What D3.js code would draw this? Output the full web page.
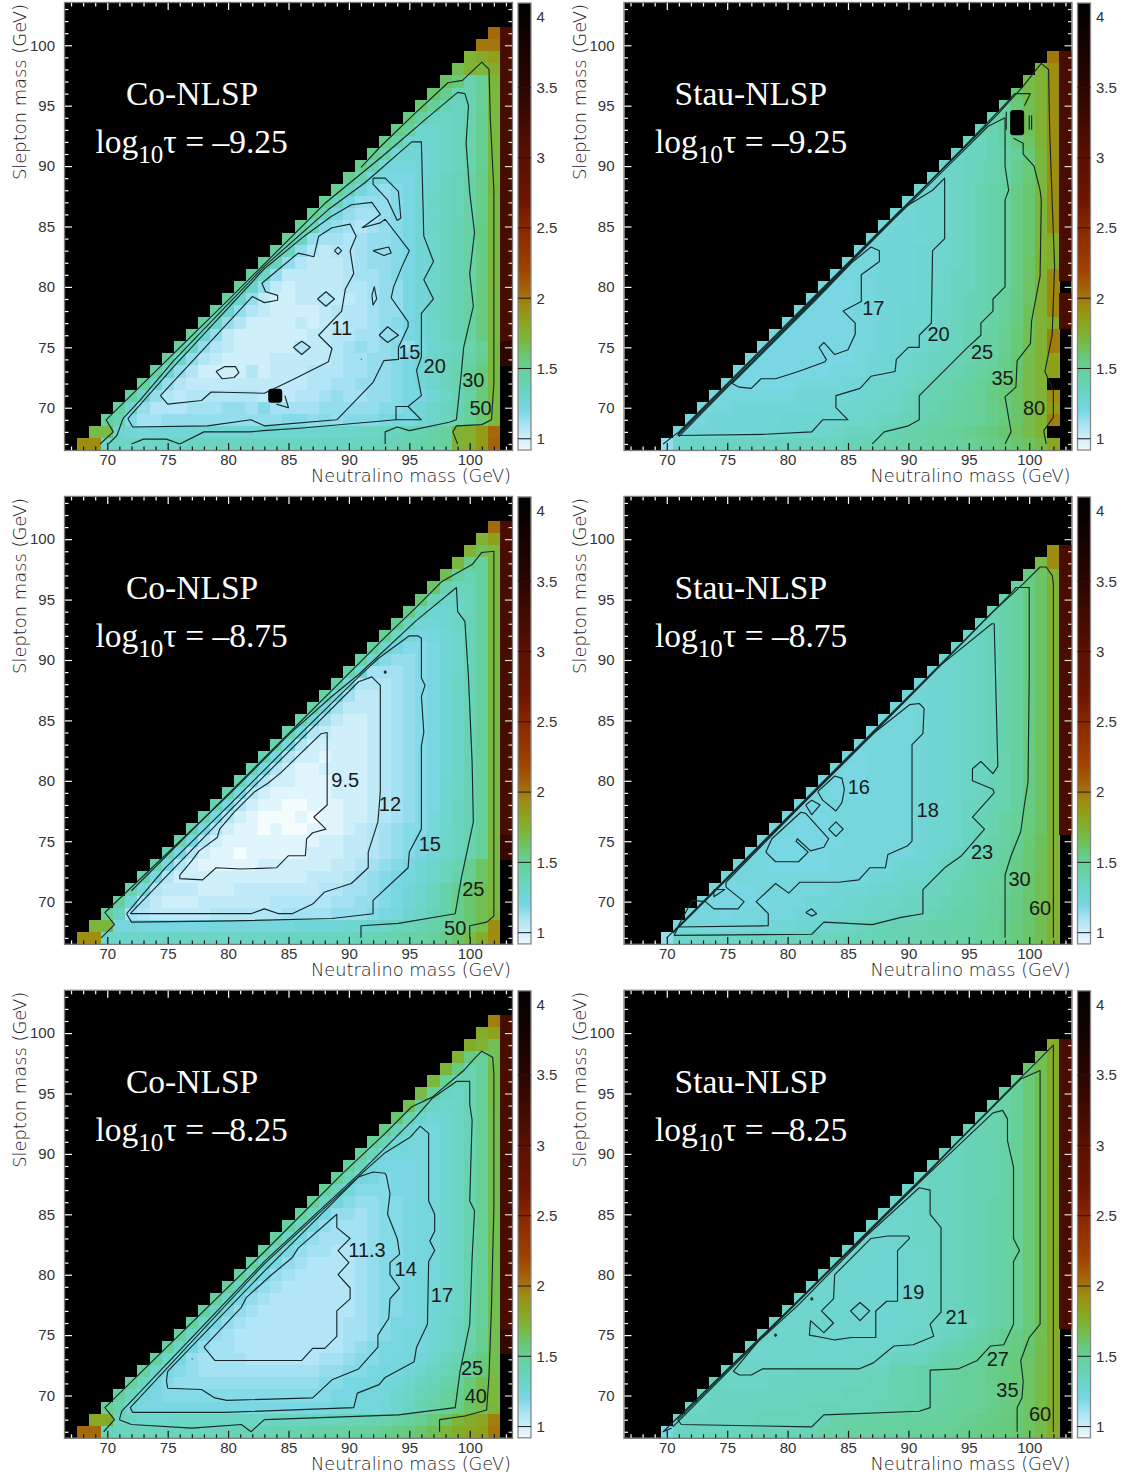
<!DOCTYPE html>
<html><head><meta charset="utf-8">
<script src="https://cdn.jsdelivr.net/npm/d3@7"></script>
<style>html,body{margin:0;background:#fff}svg{display:block}</style>
</head><body><div id="c"></div>
<script>
// ---------- shared axis values ----------
const massTicks=[70,75,80,85,90,95,100];
const barTicks=[1,1.5,2,2.5,3,3.5,4];
const barStops=[0.86,0.9,1.0,1.05,1.1,1.2,1.3,1.4,1.5,1.6,1.7,1.85,1.95,2.05,2.2,2.5,2.7,3.0,3.5,4.1];
const barColors=["#ffffff","#f6fcfe","#cfeffa","#bde9f8","#abe3f5","#78d7e3","#6dd5cb","#68d3b2","#66d098","#68c76f","#7ab83f","#8fa018","#a0880e","#a4660a","#a04200","#8a2600","#6c1400","#5a1000","#2b0500","#000000"];

// ---------- cell values (fb), rows from top down, each row ends at neutralino mass 102 ----------
const coA_rows=[[110],[100,100],[55,60,70],[45,55,50,60],[42,38,26,32,52],[40,34,24,25,32,50],[38,32,24,22,24,32,50],[36,30,22,21,22,25,33,50],[35,30,20,20,21,23,26,33,50],[33,28,19,19,19,21,23,26,33,50],[33,27,18,18,18,19,21,23,26,33,50],[33,26,18,17,17,18,19,21,23,26,33,50],
[33,25,17,16,16,16,18,20,22,24,27,34,50],[32,24,17,15,14,15,16,18,20,22,24,27,34,52],[32,24,16,14,14,14,15,16,18,21,22,24,27,34,50],[32,24,16,14,13,13,14,15,16,18,20,22,24,27,34,50],[32,23,15,14,13,12,13,14,15,16,18,21,22,25,28,35,50],[30,22,14,13,13,12,13,14,14,15,16,18,20,22,25,28,35,50],[30,22,14,12,11,12,12,13,14,14,15,16,18,20,22,25,28,35,50],[30,22,14,12,11,11,11,12,13,14,14,15,16,18,20,22,25,28,35,50],[30,21,14,11,11,11,11,11,12,13,13,14,15,16,18,20,22,25,28,35,50],[30,21,14,11,10,11,11,11,11,12,12,13,14,14,16,18,20,22,25,28,36,50],[30,20,14,11,10,10,11,11,12,11,11,12,13,14,14,16,18,20,22,25,29,36,50],[30,20,14,12,11,10,10,10,10,11,12,12,12,13,14,14,16,18,21,23,25,29,36,50],[30,20,14,12,10,10,10,10,11,10,11,11,12,12,13,14,15,16,18,20,22,25,29,36,50],[30,19,14,11,10,10,10,10,10,10,11,11,12,12,13,13,14,14,16,18,20,23,25,29,36,50],[30,20,14,12,11,10,10,10,10,10,12,11,11,12,13,14,13,14,15,14,17,19,21,23,26,32,50],
[30,20,14,12,11,10,10,10,10,11,11,11,11,11,12,13,13,14,14,15,16,18,20,22,24,27,33,50],[30,20,14,12,10,10,10,10,12,10,11,11,11,12,12,12,13,13,14,14,15,16,18,20,23,26,30,37,50],[30,20,14,12,11,11,11,11,11,11,11,11,11,11,12,12,13,13,14,14,14,15,16,18,20,23,26,30,37,50],[30,20,14,12,11,12,12,12,12,12,12,11,11,11,12,12,13,14,13,13,14,14,15,16,16,18,21,24,28,37,50],[30,19,14,12,12,12,13,13,13,14,14,13,15,13,13,13,13,14,14,14,14,14,15,15,16,18,20,22,25,30,37,50],[30,25,15,13,13,14,14,14,14,14,14,14,14,14,14,15,15,14,15,14,15,15,15,16,17,16,18,20,23,26,30,38,50],[48,48,19,18,17,18,18,18,18,18,18,18,18,18,19,19,19,19,19,20,20,20,21,21,22,23,24,25,27,30,55,58,75,110],[85,85,20,21,21,21,21,21,21,22,22,22,22,22,22,22,22,22,22,22,22,22,22,23,23,24,24,26,27,28,30,55,58,75,115]];
const coB_rows=[[110],[55,70],[55,45,50],[50,34,30,50],[45,30,25,30,50],[42,26,22,24,30,50],[38,24,20,21,24,30,50],[35,24,19,19,21,24,30,50],[33,22,18,18,19,21,24,30,50],[32,21,17,16,17,18,20,24,30,50],[30,20,16,15,15,16,18,20,24,30,50],[28,19,15,14,14,15,16,18,20,24,30,50],[28,18,13,13,13,14,15,16,18,20,24,30,50],[28,17,12,12,12,13,14,15,16,18,21,24,30,50],[28,17,13,11,11,12,13,14,15,16,18,21,24,30,50],[28,17,13,11,11,11,12,13,14,15,16,18,21,24,30,50],[26,17,13,11,10,10,11,12,13,14,15,16,18,21,25,30,50],[26,17,12,11,10,10,10,11,12,13,14,15,16,18,21,25,31,50],[26,16,12,10,10,10,10,10,11,12,13,14,15,16,18,21,25,31,50],[26,16,12,10,10,9,10,10,10,11,12,13,14,15,16,18,21,25,31,50],[26,16,12,10,9,9,10,10,10,10,11,12,13,14,15,16,18,21,25,31,50],[26,16,12,10,10,9,9,9,10,10,10,11,12,13,14,15,16,19,21,25,31,50],[26,16,12,10,9,9,9,9,9,10,10,10,11,12,13,14,15,16,19,21,25,31,50],[26,16,12,10,9,9,8,8,9,9,9,10,10,11,12,13,14,15,16,19,22,25,31,50],[26,16,12,10,9,8,8,8,9,8,9,9,10,10,11,12,13,14,15,17,19,22,25,31,50],[26,16,12,10,9,9,8,9,8,8,9,9,9,10,11,12,13,14,15,15,17,20,22,25,31,50],[26,16,12,10,9,9,9,9,9,9,9,9,10,10,11,11,12,13,14,15,16,17,20,22,26,32,50],[26,16,12,10,9,9,8,9,9,9,9,9,10,10,10,11,11,12,13,14,15,16,18,20,23,26,32,50],[26,16,12,10,9,9,9,9,9,10,10,10,10,10,10,11,11,12,13,14,15,16,18,20,23,26,33,42,50],[26,16,12,10,10,10,10,10,10,10,10,10,10,10,11,11,11,12,13,14,15,16,17,18,20,23,27,33,42,50],[26,17,12,11,11,11,10,10,10,11,11,11,11,11,11,11,12,12,13,13,14,15,16,18,20,23,27,33,40,46,50],[30,18,13,11,10,10,10,11,11,11,11,11,11,12,12,12,12,12,13,13,14,14,15,16,18,20,23,27,33,40,46,50],[32,22,13,12,11,11,11,11,11,12,12,12,12,12,12,13,13,13,13,14,14,14,15,16,17,19,21,24,28,34,40,46,52],[52,52,17,17,16,16,16,16,16,16,17,17,17,17,17,17,17,18,18,18,18,19,19,20,21,22,23,25,27,30,34,40,46,85],[85,85,20,20,20,20,20,21,21,21,21,21,21,21,21,21,21,22,22,22,22,23,23,24,24,25,26,27,28,30,34,40,48,60,85]];
const coC_rows=[[95],[60,70],[60,55,45],[55,36,32,45],[52,35,25,30,48],[50,32,24,24,32,48],[48,30,22,21,24,32,48],[45,28,21,20,21,24,32,48],[40,26,20,18,19,21,24,32,46],[34,24,19,17,17,19,21,24,32,46],[32,24,18,17,17,17,19,21,24,32,46],[32,23,17,17,17,17,17,19,21,24,32,46],[32,23,17,16,16,16,17,17,19,21,25,32,46],[32,23,17,16,15,16,16,17,17,19,21,25,32,46],[32,22,17,15,15,15,16,16,17,17,19,21,25,32,46],[32,22,17,15,14,14,15,15,16,17,17,19,21,25,32,46],[30,22,16,14,14,13,14,15,15,16,17,17,19,21,25,32,46],[30,21,16,14,13,13,13,14,15,15,16,17,17,19,21,25,32,46],[30,21,16,14,13,13,13,13,14,15,15,16,17,17,19,21,25,32,46],[30,21,16,14,13,13,12,12,13,14,15,15,16,17,17,19,21,25,32,46],[30,21,16,14,13,12,12,12,12,13,14,15,15,16,17,17,19,21,25,32,46],[30,21,16,14,13,12,12,12,12,12,13,14,15,15,16,17,17,19,21,25,32,46],[30,21,16,14,13,12,12,12,12,12,12,13,14,15,15,16,17,17,19,21,25,32,46],[30,21,16,14,13,12,12,12,12,12,12,12,13,14,15,15,16,17,18,19,21,25,32,46],[30,21,16,14,13,12,12,12,12,12,12,12,12,13,14,15,15,16,17,18,19,21,25,32,46],[30,21,16,14,13,12,12,12,12,12,12,12,12,13,13,14,15,16,16,17,18,20,22,25,32,46],[30,21,16,14,13,12,12,12,12,12,12,12,12,12,13,13,14,15,16,17,17,18,20,22,26,33,46],[30,21,16,14,13,13,12,12,12,12,12,12,12,12,12,13,14,15,16,16,17,17,18,20,23,27,33,46],[30,21,16,14,13,13,13,13,12,12,12,12,12,12,13,13,14,15,15,16,17,17,18,20,23,26,31,37,46],[30,21,16,15,14,13,13,13,13,13,13,13,13,13,13,14,14,15,15,16,17,17,18,20,22,24,27,31,38,48],[30,22,16,15,14,14,14,14,14,14,14,14,14,14,14,14,15,15,16,16,17,17,18,20,22,24,27,31,38,46,50],[30,22,17,16,15,15,15,15,15,15,15,15,15,15,15,15,15,15,16,16,17,17,17,19,21,24,26,30,33,38,46,50],[32,26,18,16,16,16,16,16,16,16,16,16,16,16,16,16,16,16,16,17,17,17,17,18,20,22,25,28,31,35,42,46,52],[62,62,22,21,20,20,20,21,21,21,21,21,21,21,21,22,22,22,22,23,23,24,24,25,26,28,30,33,37,42,52,60,65,95],[110,110,24,23,23,23,23,23,23,23,23,23,24,24,24,25,25,26,26,27,27,28,29,30,31,33,35,37,40,44,52,60,65,70,100]];
const stauA_rows=[[100],[55,85],[48,55,85],[40,48,55,85],[30,38,46,55,85],[26,30,36,45,55,85],[24,26,30,36,44,55,85],[22,23,25,30,36,42,55,85],[21,22,23,25,28,32,38,50,85],[20,21,22,24,26,28,33,38,50,85],[20,20,21,22,24,26,28,33,38,50,85],[19,19,20,21,23,25,27,30,35,40,52,85],[18,19,19,20,21,23,25,27,30,35,40,52,85],[18,18,19,19,20,21,23,25,27,30,35,40,52,85],[18,18,18,19,19,20,21,23,25,27,30,35,40,52,85],[18,18,18,18,18,19,20,21,23,25,27,30,35,40,55,60],[17,17,18,18,18,19,19,20,21,23,25,27,30,35,40,55,60],[17,17,17,18,18,18,19,19,20,21,23,25,27,30,35,42,55,60],[17,17,17,17,18,18,18,19,19,20,22,23,25,27,30,35,42,55,90],[17,16,16,17,17,18,18,18,19,20,20,22,23,25,27,30,35,42,55,90],[17,16,16,16,17,17,18,18,18,19,20,20,22,24,25,27,31,36,42,55,90],[17,16,16,16,16,17,17,18,18,19,19,20,21,22,24,26,28,31,36,44,55,90],[17,16,16,16,16,16,17,17,18,18,19,19,20,21,23,24,26,28,32,37,44,55,60],[17,16,16,16,16,16,16,17,17,18,18,19,19,20,22,23,25,27,29,33,38,45,55,95],[17,16,16,16,16,16,16,16,17,17,18,18,19,20,21,22,23,25,27,29,33,38,46,55,95],[17,16,16,16,16,16,16,16,16,17,18,18,19,20,21,22,22,24,26,28,30,34,39,47,55,70],[17,16,16,16,16,16,16,16,17,17,17,18,18,19,20,21,22,24,25,27,29,31,34,40,48,55,70],[17,16,16,16,16,16,17,17,17,17,18,18,19,20,20,21,23,24,26,27,29,31,34,38,42,48,55,10000],[17,17,17,17,17,17,17,18,18,18,18,18,19,19,20,21,22,24,25,26,28,30,32,35,38,42,48,55,85],[17,17,17,18,18,18,18,18,18,18,18,19,19,19,20,21,21,23,24,26,27,29,30,32,34,37,41,47,55,75],[17,17,18,18,18,18,18,18,19,19,19,19,19,20,20,21,22,23,24,25,27,28,29,30,32,34,37,41,47,55,95],[17,18,18,18,18,18,18,18,19,19,19,20,20,21,22,22,23,24,25,27,28,29,30,31,33,35,37,40,43,48,55,10000],[14,20,21,21,21,22,22,22,22,22,22,22,23,23,23,24,24,25,26,27,28,28,29,30,30,32,33,35,37,40,43,48,65]];
const stauB_rows=[[85],[48,85],[36,42,55],[30,36,42,55],[27,30,36,42,55],[25,27,30,36,42,55],[22,24,27,30,36,42,55],[21,22,24,27,30,36,42,55],[20,21,22,24,27,30,36,42,55],[19,20,21,22,24,27,30,36,42,55],[19,19,20,21,22,24,27,30,36,42,55],[18,19,19,20,21,22,24,27,30,36,42,55],[18,18,19,19,20,21,22,24,27,30,36,42,55],[17,17,18,19,19,20,21,22,24,27,30,36,42,55],[17,17,17,18,19,19,20,21,22,24,27,30,36,42,55],[17,17,17,17,18,19,19,20,21,22,24,27,30,36,42,55],[17,17,17,17,17,18,19,19,20,21,22,24,27,30,36,42,55],[17,16,17,17,17,17,18,19,19,20,21,22,24,26,30,36,42,55],[17,16,16,17,17,17,17,18,19,19,20,21,23,24,26,30,36,42,55],[17,16,16,16,17,17,17,17,18,19,19,20,21,22,24,26,30,36,42,55],[17,17,16,16,16,17,17,17,17,18,19,19,20,21,22,24,26,30,36,42,55],[17,16,16,17,17,17,17,17,17,17,18,19,19,20,22,23,24,26,30,36,42,55],[17,16,16,16,17,17,17,17,17,17,17,18,19,19,20,22,24,26,29,32,36,42,55],[17,17,16,16,16,17,17,17,17,17,17,17,18,19,19,20,22,24,26,29,32,37,42,55],[17,16,16,16,16,16,16,17,17,17,17,17,17,18,19,19,20,22,25,27,29,33,38,44,55],[17,17,16,16,16,16,16,17,17,17,17,17,17,17,18,19,20,22,23,25,27,30,34,39,44,55],[17,17,17,16,16,16,16,16,17,17,17,17,17,18,19,19,20,22,23,25,27,28,31,35,39,44,55],[17,17,17,17,17,17,17,17,17,17,17,17,18,18,19,20,20,21,23,24,26,28,29,32,35,40,45,55],[17,16,16,16,17,17,17,17,17,17,18,18,18,19,20,20,21,21,22,23,25,26,28,30,32,35,40,45,55],[17,16,16,16,16,16,17,17,17,18,18,18,19,19,20,21,21,22,22,23,24,26,27,28,30,33,36,40,46,55],[17,17,17,16,17,17,17,17,17,18,18,18,19,19,20,21,21,22,22,23,24,25,27,28,29,31,33,36,40,46,55],[17,17,17,17,17,17,17,18,18,18,19,19,19,20,21,22,24,24,25,25,26,27,27,28,28,30,32,34,37,41,46,55],[14,20,20,21,21,21,21,22,22,22,22,22,22,23,23,24,24,24,25,25,26,26,27,27,28,28,30,32,34,37,41,46,55]];
const stauC_rows=[[60],[45,60],[40,46,60],[32,38,46,60],[28,32,38,46,60],[26,28,32,38,46,60],[25,26,28,32,38,46,60],[24,25,26,28,32,38,46,60],[23,24,25,26,28,32,38,46,60],[22,23,24,25,26,28,32,38,46,60],[22,22,23,24,25,26,28,32,38,46,60],[21,22,22,23,24,25,26,28,32,38,46,60],[20,21,22,22,23,24,25,26,28,32,38,46,60],[20,20,21,22,22,23,24,25,27,28,32,38,46,60],[20,20,20,21,22,22,23,24,25,27,28,32,38,46,60],[20,20,20,20,21,21,22,23,24,25,27,28,32,38,46,60],[20,20,19,20,20,21,21,22,23,24,25,27,28,32,38,46,60],[20,20,19,19,19,20,20,21,22,23,24,25,27,28,32,38,46,60],[20,20,19,19,19,19,20,20,21,22,23,24,25,27,28,32,38,46,60],[20,20,19,19,19,19,19,20,20,21,22,23,24,25,27,28,32,38,46,60],[20,20,20,19,19,19,19,19,20,20,21,22,23,24,25,27,29,32,38,46,60],[20,20,19,19,19,19,19,19,19,20,20,21,22,23,24,25,27,29,32,38,46,60],[21,20,20,19,19,19,19,19,19,19,20,20,21,22,23,24,25,27,29,32,38,46,60],[21,20,20,20,20,19,19,19,19,19,19,20,20,21,21,22,23,25,27,29,32,38,46,60],[21,20,20,20,20,20,19,19,19,19,19,20,20,21,21,22,23,25,27,30,33,35,39,46,60],[21,20,20,20,20,20,20,19,20,20,20,20,20,21,21,22,24,25,27,29,31,34,36,40,47,60],[21,20,20,20,20,20,20,20,20,20,20,21,21,22,22,23,25,27,28,29,31,33,35,37,41,47,60],[21,21,21,21,21,21,22,22,22,22,22,23,23,23,25,26,27,28,29,30,31,32,34,36,38,42,47,60],[22,21,21,21,21,22,22,22,22,22,22,23,23,24,24,25,26,27,27,28,30,31,32,34,36,38,42,48,60],[21,22,22,22,22,22,22,22,23,23,23,23,24,24,24,24,25,26,27,28,29,30,31,32,33,35,38,42,48,60],[21,21,22,22,22,22,23,23,23,23,24,24,24,24,24,24,25,26,27,28,29,30,31,32,32,34,36,38,42,48,60],[21,22,22,22,23,23,23,24,24,24,24,24,24,27,28,28,29,29,29,30,30,31,31,32,33,34,35,37,39,42,48,60],[16,22,22,23,23,23,23,24,24,24,24,24,24,28,28,29,29,29,30,30,30,31,31,32,33,34,35,36,37,39,42,48,60]];

// ---------- far-right column (mass 103): [top slepton mass, bottom slepton mass, fb] ----------
const coA_edge=[[101,76,1500],[75,74,3000]];
const coB_edge=[[101,76,1500],[75,74,2500]];
const coC_edge=[[101,76,1500],[75,74,2500]];
const stauA_edge=[[99,81,1500],[79,77,1500]];
const stauB_edge=[[99,76,1500]];
const stauC_edge=[[99,76,1500]];

// ---------- contour lines: flat lists of neutralino, slepton mass ----------
const coA_lines=[
[91,89.9,92.6,91.6,95.4,94.3,98.2,96.9,99.4,97.1,101,98.6,101.6,98,101.7,94,102,88,102,80,102,72,101.8,69,101,68.6,98.9,68.5,98.6,68,99,67],
[69.4,67,70.5,68,69.9,69,80,78.9,88,86.9,93,91,96.6,94.1,99,96.1,99.6,96,99.9,95,99.7,91.9,100,87.8,100.4,84.5,100,81.1,100.3,78.4,99.5,75,99.3,72.8,98.9,69,98.3,68.8,95,68.1,94,68.4,93,68,93,67],
[72,67,73,67.4,74.9,67.4,76,67,78,68,81.8,68,82.9,68.1,85.9,68.3,93.9,69,96,69,94.9,70.1,96,71,95.6,73.1,96,74.2,96,77.8,97,79,96.2,80.6,97,82.1,96.2,84.2,96,92,95.2,92,91.3,88.6,88.3,86.4,83,81.7,75.5,73.9,72.7,70.6,71.3,69.1,70.8,67.7,70.1,67],
[93.9,69,93.9,70.1,94.9,70.1],
[71.7,69.1,72.1,68.4,78.3,68.5,81.9,69,83,68.5,89,69,92,72.1,92.9,73.9,94.1,74,94.1,75,94.9,76.7,94.9,77.1,93.5,79.1,93.7,80,94.4,81.7,95,83,93,85.6,92.6,85.3,91.1,84.9,92.6,86,91.9,87,90.2,86.8,88.5,85.8,86.3,84.2,83,81.5,75.5,73.4,71.7,69.1],
[92,89,93,89,94.1,87.9,94.3,85.7,94,85.5,93.2,87.2,92,88.5,92,89],
[74.4,71,75,70.3,77.8,70.6,78.6,71.3,83,71.2,85.3,72.3,88.3,73.8,88.6,74.9,87.5,76,89.4,78,89.7,79.8,90.4,81.1,90.1,83,90.6,84.2,90.1,85.2,88.6,84.9,87.5,84.2,87.1,82.5,85.8,82.8,82.8,80.3,83.1,79.6,84.1,79.3,84.1,78.9,83,78.7,82,79.2,74.4,71],
[79,73,79.7,73.4,80.6,73.4,80.9,72.9,80.5,72.5,79.5,72.4,79,73],
[85.4,75,86.1,75.5,86.8,75,86.1,74.4,85.4,75],
[87.4,79,88.1,79.6,88.8,79,88.1,78.4,87.4,79],
[88.8,83,89.1,83.3,89.4,83,89.1,82.7,88.8,83],
[92,83,93.3,83.3,93.5,82.8,92.9,82.6,92,83],
[91.9,79.3,92.1,80,92.3,79,92,78.5,91.9,79.3],
[92.5,76,93.2,76.7,94.1,76,93.2,75.4,92.5,76],
[84,70.3,85,70,84.7,71],
[91,74,91.05,74.05]];
const coB_lines=[
[69.5,67,70.6,68.1,69.8,69.1,80,78.8,85,83.8,88.6,87,90.8,88.8,95.5,93.2,98.9,96,99,94,99.6,93.2,99.9,88.5,100.2,81.5,100.3,76.6,99.3,71.9,98.8,69,94.1,68.2,91,68,91,67],
[100,67,100,68,101.4,68.3,102,68.8,102,97.9,102,99,101,98.9,100.2,97.9,97.7,96.5,95.5,94.3,93,91.9,90,88.9,85.8,84.7,80,78.9,72,70.9],
[71.6,69,72,68.3,80.3,68.4,88.6,68.6,92,69,92,70.1,94.9,72.8,95,74.1,96,76,96,82.9,96.2,84,96,87,96.3,87.9,96,88.5,96,91.8,95.7,92,95,92,92.4,90.1,90.8,88.6,85.9,83.8,80.3,78.2,74.8,72.8,71.6,69],
[71.9,69,81.9,69,83,69.4,84.2,69,85.3,69,87,69.8,88,70.8,90.2,71.5,91.6,72.8,91.6,74.1,92.4,76.6,92.6,79.1,92.6,87.9,91.9,88.6,90.8,88.2,85.8,83.2,80.3,77.7,71.9,69],
[92.9,89,93,89.1,93.1,89,93,88.9,92.9,89],
[76,72.2,76,71.9,77.9,71.8,79,72.8,81.1,72.7,84,72.8,85,73.8,86.4,73.8,86.5,75.2,87,75.7,88.1,76,87.1,77,88.2,78,88.2,84,87.7,83.9,84.4,80.7,83.3,79.8,82.2,79.1,80.5,77.4,79.3,76,79.1,75.3,77.6,74.2,77,73.4,76,72.2]];
const coC_lines=[
[97.5,67,97.5,68,99.6,68.3,101.4,68.8,101.6,71.7,101.8,77.3,102,85.6,102,96.6,101.9,98,101,98.5,100.4,97.9,99.5,96.9,96.9,94.7,95.2,93.9,93,91.7,89.4,88.3,83,81.9,69.8,69,70.6,68,69.7,67],
[71,68,72,67.6,77,67.3,81.1,67.6,81.9,67,83,68,94.1,68.4,98.8,69,99.2,72,100,75.9,100.2,81.4,100.4,85.3,100,86.1,100.2,92.8,100,94.1,100,96,98.9,96,96.9,94.6,95.5,93,90.8,88.3,83,81.1,71.2,68.7,71,68],
[71.9,69,72.1,68.6,79.7,68.6,90.4,69,90.7,70.2,92.5,70.9,93,71.5,95.4,72.8,95.6,74,96.5,75.9,96.6,81.1,97.1,82,96.7,82.8,97.1,83.6,97.1,85,96.6,86.1,96.6,91.7,95.9,92.3,95.1,91.4,93,90.1,91.3,88.6,83,80.9,71.9,69],
[75,70.6,74.9,71.2,75,72,83,80.3,90.8,88.1,92,88.5,93,88.4,93.1,88.2,93.4,86.7,93.2,85,94,83,94.2,81.7,93.4,81,93.4,80,94.2,78.9,93.4,78,93.3,76.4,92.4,75,92.4,74,90.8,72.2,88.6,71.3,87,69.8,79.9,69.6,78.9,69.8,77.8,70.5,75,70.6],
[78,74,78.9,72.9,86.1,72.9,87,73.9,88,73.9,89,74.9,89,77,90.1,78,90.1,78.9,89.1,80,90,81,89.1,82,90.1,83,89,83.9,89,85,85.8,82.2,85.3,81.4,83.6,80,81.5,78.1,81.1,77.3,78,74],
[77,73,77.05,73.05]];
const stauA_lines=[
[69.7,67,71,68,80,77,88.6,85.6,94.1,91,97.4,94.3,99.4,96.5,101,98.5,101.6,98,101.7,92.7,102,84.4,102.1,81.7,101.9,76,101.3,73,102,71.4,102,69.2,101.2,68.1,101.4,67],
[98,67,98.5,68,98,70.9,98.9,71.7,99,73.9,100.1,75.3,100.2,77.2,100.9,80.9,101,87.2,100.9,88,100.4,90,99.5,91,99.5,91.9,98.7,92.3],
[100.1,96,98.8,96,97.9,95,95.2,92.2,88.6,85.5,82,78.9,70.9,67.8],[100.1,96,99.6,95],
[87,67,88,68,90,68.5,90.9,69,90.9,71,94.9,75,96,76,96,77,97,78,97,79,98,80,98,84.4,98,87.2,98.3,88,98,90,98,94,96.6,93.3,95.2,91.9,88.6,85.4,82,78.8,71,67.6],
[70.9,67.7,78.1,67.8,82,68,82.9,69,85,69,84,70,84,71,86,71.6,86.9,72.6,88.9,73,89,74,90,75,90.9,75,90.9,76,91.9,77,92,83,93,84,93,89,92,88,89.4,86.4,82,78.7,70.9,67.7],
[75.4,72,76,71.7,77,71.6,77.8,72.4,79,72.4,80.9,73,83.1,73.8,83.2,74,82.6,75,83,75.4,83.9,74.4,85,74.8,85.6,76.1,85.6,77,84.6,78,86.1,78.8,86.1,81,87.6,82.1,87.6,83,86.9,83.3,85.3,82,82.4,79,75.4,72],
[100,93,100,94.2],[100.2,93,100.2,94.2],[98.1,93,98.1,94.5]];
const stauB_lines=[
[102,67,102,96.3,101.9,97,101.4,97.7,100.9,97.7,99.5,96.3,96.9,93.9,91.3,88.3,80,77,70,67],
[98,67,98,72.2,98.5,73.8,99.3,75.8,99.6,78,99.9,79.9,100,88.5,100,96,98.9,96,98.2,95.2,91.3,88.2,80,76.9,70.5,67.4],
[70.6,67.2,82,67.3,83,68.3,87,68.1,89.4,68.7,91.2,69,91.2,71,93,72.8,94.4,73.8,96.3,76,95.3,77,97.1,79,97,79.3,95.3,80,95.3,81,96,81.6,97,80.6,97.4,81.2,97.1,93,96.9,93,92.7,89.6,85.8,82.6,70.9,67.8,70.6,67.2],
[70.9,67.9,78.4,68,78.4,69,77.4,70,79,71.5,80.1,70.7,81,71.6,84.2,71.6,85.9,71.8,86.8,72.8,88.1,72.8,88.3,73.9,89.9,74.6,90.3,75,90.3,83,91.2,83.9,91.3,86,90.9,86.4,90.1,86.3,87.2,84,84.4,81.3,74.9,71.6,74.9,71.2,76.4,70,75.9,69.4,73.9,69.4,73.2,70,72.1,70.1,70.9,67.9],
[73.9,71,74.8,71,73.9,70.4,73.9,71],
[81.5,69.1,82,69.4,82.4,69,82,68.8,81.5,69.1],
[82.5,79.1,83.9,80.4,84.5,80.2,84.7,79.3,84.5,78.2,84,77.5,82.9,78.4,82.5,79.1],
[81.5,78,82,78.4,82.7,78,82,77.2,81.5,78],
[83.4,76,84,76.6,84.6,76,84,75.4,83.4,76],
[78.2,74.1,78.7,75.2,81.1,77.4,81.5,77.3,83.4,75.2,83,74.5,81.9,74.2,80.8,75.2,80.7,75,81.7,74.1,80.9,73.3,79,73.3,78.2,74.1]];
const stauC_lines=[
[102,67,102,99,100.5,97.5,98.2,95.2,91.4,88.3,80,77,69.7,67,70.4,67.3],
[99,67,99,69,99.4,69.8,99.5,71.2,99.3,72.9,100,74.8,100.9,75.9,100.9,96.9,99.3,96.2,98.2,95.1,94.1,91,91.4,88.2,80,76.9,70.5,67.4],
[70.9,68,71.2,67.6,82,67.4,83,68.4,90.9,68.7,91.8,69,91.8,72.1,94.1,72.2,95.7,72.9,96.8,74.1,97.9,74.2,98.7,75.9,98.7,81.1,99.2,82,98.7,83,98.7,88.9,98.2,91.1,98.2,92.9,97.8,93.6,97,93.4,91.4,88.1,83.1,80,70.9,68],
[75.5,72,76,71.7,77,71.7,77.9,72.2,80,72.2,85.9,72.2,87.1,72.7,88.8,74.1,90.4,74.2,92.1,74.9,91.8,75.9,92.7,76.9,92.7,83.9,91.8,85,91.8,87,90.9,87.2,86.4,83.1,80.9,77.5,77.5,74.4,75.5,72],
[81.9,76.2,81.8,75,82.9,74.8,83.9,74.6,85.3,74.8,87.3,74.8,87.3,77,88.2,77.8,89.1,77.8,89.1,82,90.1,83,90,83.2,88.3,83.2,86.9,83,83.9,80,83.8,78,82.8,77,83.8,76,83,75.2,81.9,76.2],
[85.2,77,86,77.7,86.8,77,86,76.2,85.2,77],
[81.9,78,82,78.1,82.1,78,82,77.9,81.9,78],
[78.9,75,79,75.1,79.1,75,79,74.9,78.9,75]];

// ---------- contour labels: text, neutralino, slepton ----------
const coA_labels=[["11",89.4,76.6],["15",95,74.6],["20",97.1,73.5],["30",100.3,72.3],["50",100.9,70]];
const coB_labels=[["9.5",89.7,80.1],["12",93.4,78.1],["15",96.7,74.8],["25",100.3,71.1],["50",98.8,67.8]];
const coC_labels=[["11.3",91.5,82.1],["14",94.7,80.5],["17",97.7,78.3],["25",100.2,72.3],["40",100.5,70]];
const stauA_labels=[["17",87.1,78.3],["20",92.5,76.1],["25",96.1,74.6],["35",97.8,72.5],["80",100.4,70]];
const stauB_labels=[["16",85.9,79.5],["18",91.6,77.6],["23",96.1,74.1],["30",99.2,71.9],["60",100.9,69.5]];
const stauC_labels=[["19",90.4,78.6],["21",94,76.5],["27",97.4,73],["35",98.2,70.5],["60",100.9,68.5]];

// ---------- solid black spots: neutralino, slepton, half-width, half-height ----------
const coA_blobs=[[83.9,71,0.58,0.58]];
const stauA_blobs=[[99,93.6,0.58,1.05]];

const panels=[
 {nlsp:"Co-NLSP",tau:"–9.25",col:0,row:0,top:101,rows:coA_rows,edge:coA_edge,lines:coA_lines,labels:coA_labels,blobs:coA_blobs},
 {nlsp:"Stau-NLSP",tau:"–9.25",col:1,row:0,top:99,rows:stauA_rows,edge:stauA_edge,lines:stauA_lines,labels:stauA_labels,blobs:stauA_blobs},
 {nlsp:"Co-NLSP",tau:"–8.75",col:0,row:1,top:101,rows:coB_rows,edge:coB_edge,lines:coB_lines,labels:coB_labels,blobs:[]},
 {nlsp:"Stau-NLSP",tau:"–8.75",col:1,row:1,top:99,rows:stauB_rows,edge:stauB_edge,lines:stauB_lines,labels:stauB_labels,blobs:[]},
 {nlsp:"Co-NLSP",tau:"–8.25",col:0,row:2,top:101,rows:coC_rows,edge:coC_edge,lines:coC_lines,labels:coC_labels,blobs:[]},
 {nlsp:"Stau-NLSP",tau:"–8.25",col:1,row:2,top:99,rows:stauC_rows,edge:stauC_edge,lines:stauC_lines,labels:stauC_labels,blobs:[]}
];

const W=1130,H=1477,left0=65,colStep=559.5,top0=3,rowStep=493.9,size=447;
const color=d3.scaleLinear().domain(barStops).range(barColors).clamp(true);
const svg=d3.select("#c").append("svg").attr("width",W).attr("height",H);
const sans="'Liberation Sans',Arial,sans-serif",wide="'DejaVu Sans',sans-serif",serif="'Liberation Serif',serif";

panels.forEach((p,pi)=>{
 const L=left0+p.col*colStep,T=top0+p.row*rowStep;
 const x=d3.scaleLinear().domain([66.5,103.5]).range([L,L+size]);
 const y=d3.scaleLinear().domain([66.5,103.5]).range([T+size,T]);
 const g=svg.append("g");
 g.append("rect").attr("x",L).attr("y",T).attr("width",size).attr("height",size).attr("fill","#000");
 const cells=[];
 p.rows.forEach((r,i)=>r.forEach((v,j)=>cells.push({x:102-(r.length-1)+j,y:p.top-i,v})));
 p.edge.forEach(([a,b,v])=>d3.range(b,a+1).forEach(m=>cells.push({x:103,y:m,v})));
 g.append("g").attr("shape-rendering","crispEdges").selectAll("rect").data(cells).join("rect")
  .attr("x",d=>x(d.x-.5)).attr("y",d=>y(d.y+.5)).attr("width",x(1)-x(0)+.3).attr("height",y(0)-y(1)+.3)
  .attr("fill",d=>color(Math.log10(d.v)));
 // contour lines
 const line=d3.line().x(d=>x(d[0])).y(d=>y(d[1]));
 const clipId="clip"+pi;
 g.append("clipPath").attr("id",clipId).append("rect").attr("x",L).attr("y",T).attr("width",size).attr("height",size);
 const cg=g.append("g").attr("clip-path",`url(#${clipId})`);
 cg.selectAll("path").data(p.lines).join("path")
  .attr("d",f=>line(d3.range(0,f.length,2).map(i=>[f[i],f[i+1]])))
  .attr("fill","none").attr("stroke","#16282a").attr("stroke-width",1.15).attr("stroke-linejoin","round");
 cg.selectAll("rect").data(p.blobs).join("rect")
  .attr("x",d=>x(d[0]-d[2])).attr("y",d=>y(d[1]+d[3]))
  .attr("width",d=>x(d[0]+d[2])-x(d[0]-d[2])).attr("height",d=>y(d[1]-d[3])-y(d[1]+d[3])).attr("rx",3.2).attr("ry",3.2).attr("fill","#000");
 // labels
 g.selectAll("text.lab").data(p.labels).join("text").attr("class","lab")
  .attr("x",d=>x(d[1])).attr("y",d=>y(d[2])).attr("dy","0.36em").attr("text-anchor","middle")
  .attr("font-family",sans).attr("font-size",20).attr("fill","#1a1a1a").text(d=>d[0]);
 // title
 g.append("text").attr("x",L+(p.col?50:61)).attr("y",T+102).attr("font-family",serif).attr("font-size",33.5).attr("fill","#fff").text(p.nlsp);
 const t2=g.append("text").attr("x",L+30.5).attr("y",T+150).attr("font-family",serif).attr("font-size",33.5).attr("fill","#fff");
 t2.append("tspan").text("log");
 t2.append("tspan").attr("dy",10).attr("font-size",25).text("10");
 t2.append("tspan").attr("dy",-10).text("τ = "+p.tau);
 // frame
 g.append("rect").attr("x",L-.5).attr("y",T-.5).attr("width",size+1).attr("height",size+1).attr("fill","none").attr("stroke","#7a7a7a").attr("stroke-width",1.3);
 // axes
 const minor=d3.range(67,104),minorY=d3.range(67,104);
 const firstCell=p.col?70:68;
 const tickStyle=(sel,fn)=>{sel.select(".domain").remove();sel.selectAll("line").attr("stroke",fn).attr("stroke-width",1.2);};
 const labStyle=sel=>sel.selectAll("text").attr("font-family",sans).attr("font-size",15).attr("fill","#333");
 const bottomColor=d=>(d>=firstCell&&d<=102)?"#111":"#fff";
 const bMinor=g.append("g").attr("transform",`translate(0,${T+size})`).call(d3.axisBottom(x).tickValues(minor.filter(d=>d%5)).tickSize(-3.5).tickFormat(""));tickStyle(bMinor,bottomColor);
 const bMajor=g.append("g").attr("transform",`translate(0,${T+size})`).call(d3.axisBottom(x).tickValues(massTicks).tickSize(-7).tickPadding(4.5).tickFormat(d3.format("d")));tickStyle(bMajor,bottomColor);labStyle(bMajor);
 const tMinor=g.append("g").attr("transform",`translate(0,${T})`).call(d3.axisTop(x).tickValues(minor.filter(d=>d%5)).tickSize(-3.5).tickFormat(""));tickStyle(tMinor,"#fff");
 const tMajor=g.append("g").attr("transform",`translate(0,${T})`).call(d3.axisTop(x).tickValues(massTicks).tickSize(-7).tickFormat(""));tickStyle(tMajor,"#fff");
 const lMinor=g.append("g").attr("transform",`translate(${L},0)`).call(d3.axisLeft(y).tickValues(minorY.filter(d=>d%5)).tickSize(-3.5).tickFormat(""));tickStyle(lMinor,"#fff");
 const lMajor=g.append("g").attr("transform",`translate(${L},0)`).call(d3.axisLeft(y).tickValues(massTicks).tickSize(-7).tickPadding(10).tickFormat(d3.format("d")));tickStyle(lMajor,"#fff");labStyle(lMajor);
 const rMinor=g.append("g").attr("transform",`translate(${L+size},0)`).call(d3.axisRight(y).tickValues(minorY.filter(d=>d%5)).tickSize(-3.5).tickFormat(""));tickStyle(rMinor,"#ddd");
 const rMajor=g.append("g").attr("transform",`translate(${L+size},0)`).call(d3.axisRight(y).tickValues(massTicks).tickSize(-7).tickFormat(""));tickStyle(rMajor,"#ddd");
 // axis titles
 g.append("text").attr("x",L+size-1).attr("y",T+479).attr("text-anchor","end").attr("font-family",wide).attr("font-weight",200)
  .attr("font-size",17).attr("fill","#222").attr("textLength",200).attr("lengthAdjust","spacingAndGlyphs").text("Neutralino mass (GeV)");
 g.append("text").attr("transform",`translate(${L-39},${T+177}) rotate(-90)`).attr("font-family",wide).attr("font-weight",200)
  .attr("font-size",17).attr("fill","#222").attr("textLength",176).attr("lengthAdjust","spacingAndGlyphs").text("Slepton mass (GeV)");
 // colour bar
 const bx=L+size+6,bw=13;
 const by=d3.scaleLinear().domain([0.92,4.1]).range([T+size,T]);
 const steps=d3.range(0,size,1);
 g.append("g").attr("shape-rendering","crispEdges").selectAll("rect").data(steps).join("rect")
  .attr("x",bx).attr("width",bw).attr("y",d=>T+size-d-1).attr("height",1.3)
  .attr("fill",d=>color(by.invert(T+size-d-.5)));
 g.append("rect").attr("x",bx).attr("y",T).attr("width",bw).attr("height",size).attr("fill","none").attr("stroke","#888").attr("stroke-width",1.3);
 const barAxis=g.append("g").attr("transform",`translate(${bx+bw},0)`).call(d3.axisRight(by).tickValues(barTicks).tickSize(0).tickPadding(5.5).tickFormat(d=>d));
 barAxis.select(".domain").remove();labStyle(barAxis);
 g.selectAll("line.bt").data(barTicks.filter(d=>d<4)).join("line").attr("class","bt")
  .attr("x1",bx).attr("x2",bx+bw).attr("y1",d=>by(d)).attr("y2",d=>by(d)).attr("stroke","#1a1a1a").attr("stroke-width",1);
});
</script></body></html>
